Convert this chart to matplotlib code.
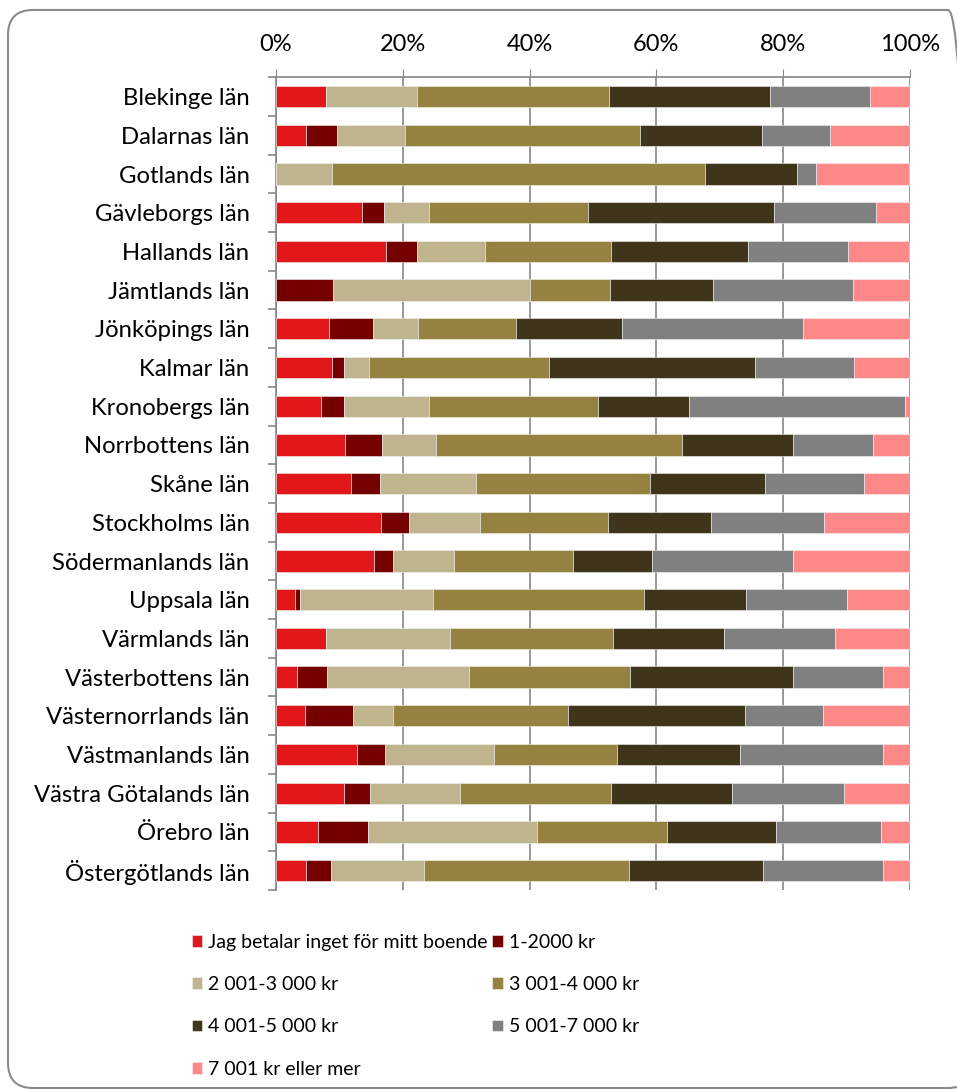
import matplotlib
matplotlib.use("Agg")
import matplotlib.pyplot as plt
import numpy as np
from matplotlib.patches import FancyBboxPatch
from matplotlib.transforms import IdentityTransform

plt.rcParams['font.family'] = ['Lato', 'DejaVu Sans']

counties = ["Blekinge län", "Dalarnas län", "Gotlands län", "Gävleborgs län",
            "Hallands län", "Jämtlands län", "Jönköpings län", "Kalmar län",
            "Kronobergs län", "Norrbottens län", "Skåne län", "Stockholms län",
            "Södermanlands län", "Uppsala län", "Värmlands län",
            "Västerbottens län", "Västernorrlands län", "Västmanlands län",
            "Västra Götalands län", "Örebro län", "Östergötlands län"]

categories = ["Jag betalar inget för mitt boende", "1-2000 kr", "2 001-3 000 kr",
              "3 001-4 000 kr", "4 001-5 000 kr", "5 001-7 000 kr",
              "7 001 kr eller mer"]

# andel (%) per län och kategori
free_housing = [7.9, 4.7, 0.0, 13.5, 17.4, 0.0, 8.3, 8.8, 7.1, 10.9, 11.8,
                16.5, 15.5, 3.0, 7.9, 3.3, 4.6, 12.8, 10.7, 6.6, 4.7]
kr_1_2000 = [0.0, 5.0, 0.0, 3.5, 4.9, 9.0, 7.0, 1.9, 3.6, 5.8, 4.6,
             4.5, 2.9, 0.8, 0.0, 4.8, 7.6, 4.4, 4.1, 7.9, 3.9]
kr_2001_3000 = [14.4, 10.7, 8.8, 7.1, 10.7, 31.0, 7.1, 4.0, 13.4, 8.5, 15.2,
                11.1, 9.7, 20.9, 19.6, 22.3, 6.2, 17.2, 14.2, 26.6, 14.8]
kr_3001_4000 = [30.2, 37.0, 58.9, 25.1, 19.9, 12.7, 15.4, 28.4, 26.7, 38.8, 27.4,
                20.2, 18.7, 33.4, 25.7, 25.4, 27.7, 19.4, 23.9, 20.5, 32.3]
kr_4001_5000 = [25.4, 19.3, 14.5, 29.4, 21.5, 16.3, 16.7, 32.4, 14.4, 17.5, 18.1,
                16.3, 12.5, 16.0, 17.5, 25.7, 27.8, 19.4, 19.0, 17.2, 21.1]
kr_5001_7000 = [15.8, 10.7, 3.0, 16.1, 15.8, 22.0, 28.7, 15.6, 34.0, 12.7, 15.7,
                17.9, 22.2, 15.9, 17.4, 14.2, 12.4, 22.5, 17.7, 16.6, 18.9]
kr_7001_plus = [6.4, 12.6, 14.7, 5.3, 9.7, 9.0, 16.8, 8.9, 0.8, 5.8, 7.2,
                13.5, 18.5, 10.0, 11.9, 4.3, 13.7, 4.3, 10.4, 4.6, 4.3]

colors = ["#E2171A", "#750000", "#BFB48E", "#968240", "#3E351B", "#808080", "#FF8888"]

series = [free_housing, kr_1_2000, kr_2001_3000, kr_3001_4000,
          kr_4001_5000, kr_5001_7000, kr_7001_plus]

fig = plt.figure(figsize=(9.57, 10.9), dpi=100)
ax = fig.add_axes([0.2884, 0.1835, 0.6625, 0.7456])

y = np.arange(len(counties))
left = np.zeros(len(counties))
handles = []
for vals, col, lab in zip(series, colors, categories):
    vals = np.array(vals)
    b = ax.barh(y, vals, left=left, height=0.55, color=col, label=lab,
                edgecolor="#f2f2f2", linewidth=0.4, zorder=3)
    handles.append(b)
    left += vals

ax.set_xlim(0, 100)
ax.set_ylim(len(counties) - 0.5, -0.5)
ax.xaxis.tick_top()
ax.set_xticks(np.arange(0, 101, 20))
ax.set_xticklabels([f"{v}%" for v in range(0, 101, 20)], fontsize=17)
ax.tick_params(axis='x', which='major', length=6, color="#868686", pad=10)
ax.grid(axis='x', color="#868686", linewidth=1.2, zorder=0)

ax.set_yticks(y)
ax.set_yticklabels(counties, fontsize=17.2)
ax.set_yticks(np.arange(-0.5, len(counties)), minor=True)
ax.tick_params(axis='y', which='major', length=0, pad=19)
ax.tick_params(axis='y', which='minor', length=6, color="#868686", width=1.2)

for s in ['bottom', 'right']:
    ax.spines[s].set_visible(False)
for s in ['top', 'left']:
    ax.spines[s].set_color("#868686")
    ax.spines[s].set_linewidth(1.2)

order = [0, 2, 4, 6, 1, 3, 5]
fig.legend([handles[i] for i in order], [categories[i] for i in order],
           loc='upper left', bbox_to_anchor=(0.192, 0.1505), ncol=2,
           frameon=False, fontsize=14, handlelength=0.55, handleheight=0.55,
           handletextpad=0.3, labelspacing=1.3, columnspacing=0.25,
           borderaxespad=0)

frame = FancyBboxPatch((8, 2), 965, 1078, boxstyle="round,pad=0,rounding_size=25",
                       transform=IdentityTransform(), facecolor='none',
                       edgecolor="#8a8a8a", linewidth=1.5)
fig.patches.append(frame)

fig.savefig("out.png", dpi=100)
